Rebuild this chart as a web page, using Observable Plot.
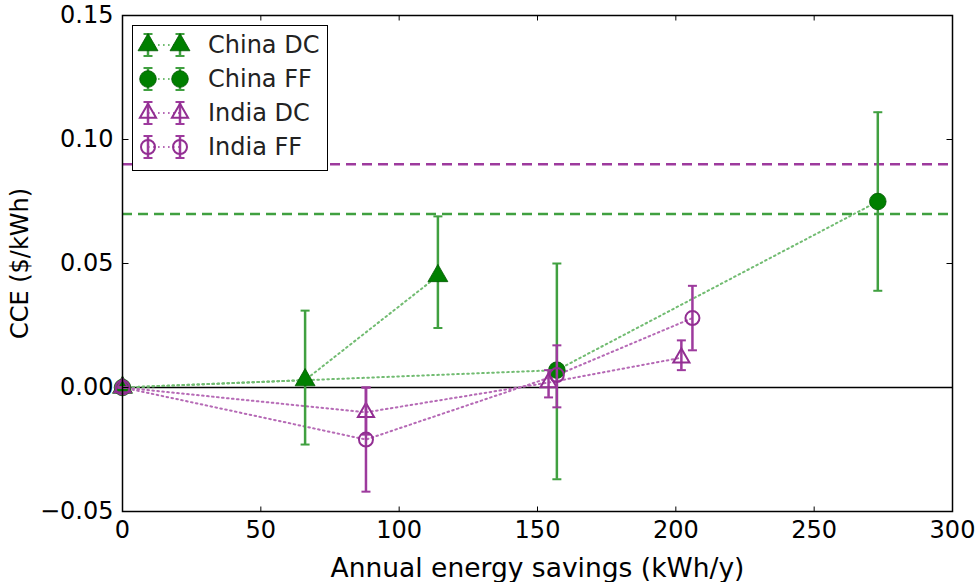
<!DOCTYPE html>
<html>
<head>
<meta charset="utf-8">
<script src="https://cdn.jsdelivr.net/npm/d3@7"></script>
<script src="https://cdn.jsdelivr.net/npm/@observablehq/plot@0.6"></script>
<style>
  html, body { margin: 0; padding: 0; background: #fff; }
  #wrap { position: relative; width: 978px; height: 582px; }
  #legend { position: absolute; left: 132px; top: 25px; }
</style>
</head>
<body>
<div id="wrap"></div>
<script>
// ---- data ----
const seriesNames = ["China DC", "China FF", "India DC", "India FF"];
const chinaDC_x  = [0, 66, 114];
const chinaDC_y  = [0, 0.003, 0.045];
const chinaDC_lo = [0, -0.023, 0.024];
const chinaDC_hi = [0, 0.031, 0.069];

const chinaFF_x  = [0, 157, 273];
const chinaFF_y  = [0, 0.007, 0.075];
const chinaFF_lo = [0, -0.037, 0.039];
const chinaFF_hi = [0, 0.050, 0.111];

const indiaDC_x  = [0, 88, 154, 202];
const indiaDC_y  = [0, -0.010, 0.002, 0.012];
const indiaDC_lo = [0, -0.019, -0.004, 0.007];
const indiaDC_hi = [0, 0.000, 0.007, 0.019];

const indiaFF_x  = [0, 88, 157, 206];
const indiaFF_y  = [0, -0.021, 0.005, 0.028];
const indiaFF_lo = [0, -0.042, -0.008, 0.015];
const indiaFF_hi = [0, 0.000, 0.017, 0.041];

const refLines = [ {series: "India", v: 0.09}, {series: "China", v: 0.07} ];
const xTicks = [0, 50, 100, 150, 200, 250, 300];
const yTicks = [-0.05, 0, 0.05, 0.10, 0.15];

// ---- styles ----
const GREEN = "#007f00", GREEN_BAR = "#40a040", GREEN_DOT = "#72bc72";
const PURPLE = "#922e92", PURPLE_BAR = "#9d3a9d", PURPLE_DOT = "#b66ab6";

const raw = [
  {name: seriesNames[0], x: chinaDC_x, y: chinaDC_y, lo: chinaDC_lo, hi: chinaDC_hi, sym: "triangle", filled: true},
  {name: seriesNames[1], x: chinaFF_x, y: chinaFF_y, lo: chinaFF_lo, hi: chinaFF_hi, sym: "circle", filled: true},
  {name: seriesNames[2], x: indiaDC_x, y: indiaDC_y, lo: indiaDC_lo, hi: indiaDC_hi, sym: "triangle", filled: false},
  {name: seriesNames[3], x: indiaFF_x, y: indiaFF_y, lo: indiaFF_lo, hi: indiaFF_hi, sym: "circle", filled: false}
];
const series = raw.map(s => ({
  ...s,
  pts: s.x.map((xv, i) => ({series: s.name, x: xv, y: s.y[i], lo: s.lo[i], hi: s.hi[i]})),
  color: s.filled ? GREEN : PURPLE,
  bar: s.filled ? GREEN_BAR : PURPLE_BAR,
  dot: s.filled ? GREEN_DOT : PURPLE_DOT,
  r: s.sym === "triangle" ? (s.filled ? 7.4 : 6) : (s.filled ? 8.3 : 7)
}));

// custom symbols
const capSym = {draw(c) { c.moveTo(-4.5, 0); c.lineTo(4.5, 0); }};
const tickUp = {draw(c) { c.moveTo(0, 0); c.lineTo(0, -5); }};
const tickDown = {draw(c) { c.moveTo(0, 0); c.lineTo(0, 5); }};
const tickRight = {draw(c) { c.moveTo(0, 0); c.lineTo(6, 0); }};
const tickLeft = {draw(c) { c.moveTo(0, 0); c.lineTo(-6, 0); }};

const DOTS = "1.6,3.4";
const marks = [];
marks.push(Plot.ruleY(refLines, {y: "v", stroke: d => d.series === "China" ? GREEN_BAR : PURPLE_BAR, strokeWidth: 2.5, strokeDasharray: "10,6"}));
marks.push(Plot.ruleY([0], {stroke: "#000", strokeWidth: 1.3}));
for (const s of series) {
  marks.push(Plot.line(s.pts, {x: "x", y: "y", stroke: s.dot, strokeWidth: 2, strokeDasharray: DOTS}));
}
for (const s of series) {
  const pts = s.pts.filter(d => d.hi !== d.lo);
  marks.push(Plot.ruleX(pts, {x: "x", y1: "lo", y2: "hi", stroke: s.bar, strokeWidth: 2.5}));
  marks.push(Plot.dot(s.pts, {x: "x", y: "lo", symbol: capSym, stroke: s.bar, strokeWidth: 2}));
  marks.push(Plot.dot(s.pts, {x: "x", y: "hi", symbol: capSym, stroke: s.bar, strokeWidth: 2}));
  marks.push(Plot.dot(s.pts, {
    x: "x", y: "y", symbol: s.sym, r: s.r,
    fill: s.filled ? s.color : "none",
    stroke: s.filled ? "#005800" : s.color,
    strokeWidth: s.filled ? 0.8 : 2
  }));
}
// inward ticks on all four sides
marks.push(Plot.dot(xTicks, {x: d => d, frameAnchor: "bottom", symbol: tickUp, stroke: "#000", strokeWidth: 1}));
marks.push(Plot.dot(xTicks, {x: d => d, frameAnchor: "top", symbol: tickDown, stroke: "#000", strokeWidth: 1}));
marks.push(Plot.dot(yTicks, {y: d => d, frameAnchor: "left", symbol: tickRight, stroke: "#000", strokeWidth: 1}));
marks.push(Plot.dot(yTicks, {y: d => d, frameAnchor: "right", symbol: tickLeft, stroke: "#000", strokeWidth: 1}));
marks.push(Plot.axisX(xTicks, {tickSize: 0, tickPadding: 9, label: "Annual energy savings (kWh/y)", labelAnchor: "center", labelOffset: 65, labelArrow: "none", tickFormat: d => String(d)}));
marks.push(Plot.axisY(yTicks, {tickSize: 0, tickPadding: 9, label: "CCE ($/kWh)", labelAnchor: "center", labelOffset: 112, labelArrow: "none",
  tickFormat: d => (d < 0 ? "\u2212" : "") + Math.abs(d).toFixed(2)}));
marks.push(Plot.frame({stroke: "#000", strokeWidth: 1.5}));

const chart = Plot.plot({
  width: 978, height: 582,
  marginLeft: 122, marginRight: 26, marginTop: 15, marginBottom: 71,
  x: {domain: [0, 300]},
  y: {domain: [-0.05, 0.15]},
  style: {fontFamily: "DejaVu Sans", fontSize: "24px", color: "#000", background: "#fff"},
  marks
});
d3.select(chart).selectAll('[aria-label="x-axis label"]').attr("font-size", "26.5px");
document.getElementById("wrap").appendChild(chart);

// ---- legend (inside plot, upper left) ----
const lw = 196, lh = 146, rowH = 34, row0 = 20;
const leg = d3.select("#wrap").append("svg").attr("id", "legend")
  .attr("width", lw).attr("height", lh)
  .style("font-family", "DejaVu Sans").style("font-size", "24px");
leg.append("rect").attr("x", 0.5).attr("y", 0.5).attr("width", lw - 1).attr("height", lh - 1)
  .attr("fill", "#fff").attr("stroke", "#000").attr("stroke-width", 1);
series.forEach((s, i) => {
  const g = leg.append("g").attr("transform", `translate(0,${row0 + i * rowH})`);
  g.append("line").attr("x1", 16).attr("x2", 48).attr("y1", 0).attr("y2", 0)
    .attr("stroke", s.dot).attr("stroke-width", 2).attr("stroke-dasharray", DOTS);
  for (const mx of [16, 48]) {
    g.append("line").attr("x1", mx).attr("x2", mx).attr("y1", -11).attr("y2", 11).attr("stroke", s.bar).attr("stroke-width", 2.5);
    g.append("line").attr("x1", mx - 4.5).attr("x2", mx + 4.5).attr("y1", -11).attr("y2", -11).attr("stroke", s.bar).attr("stroke-width", 2);
    g.append("line").attr("x1", mx - 4.5).attr("x2", mx + 4.5).attr("y1", 11).attr("y2", 11).attr("stroke", s.bar).attr("stroke-width", 2);
    const type = s.sym === "triangle" ? d3.symbolTriangle : d3.symbolCircle;
    g.append("path").attr("transform", `translate(${mx},0)`)
      .attr("d", d3.symbol(type, Math.PI * s.r * s.r)())
      .attr("fill", s.filled ? s.color : "none")
      .attr("stroke", s.filled ? "#005800" : s.color)
      .attr("stroke-width", s.filled ? 0.8 : 2);
  }
  g.append("text").attr("x", 76).attr("y", 0).attr("dy", "0.35em").attr("fill", "#222").text(s.name);
});
</script>
</body>
</html>
